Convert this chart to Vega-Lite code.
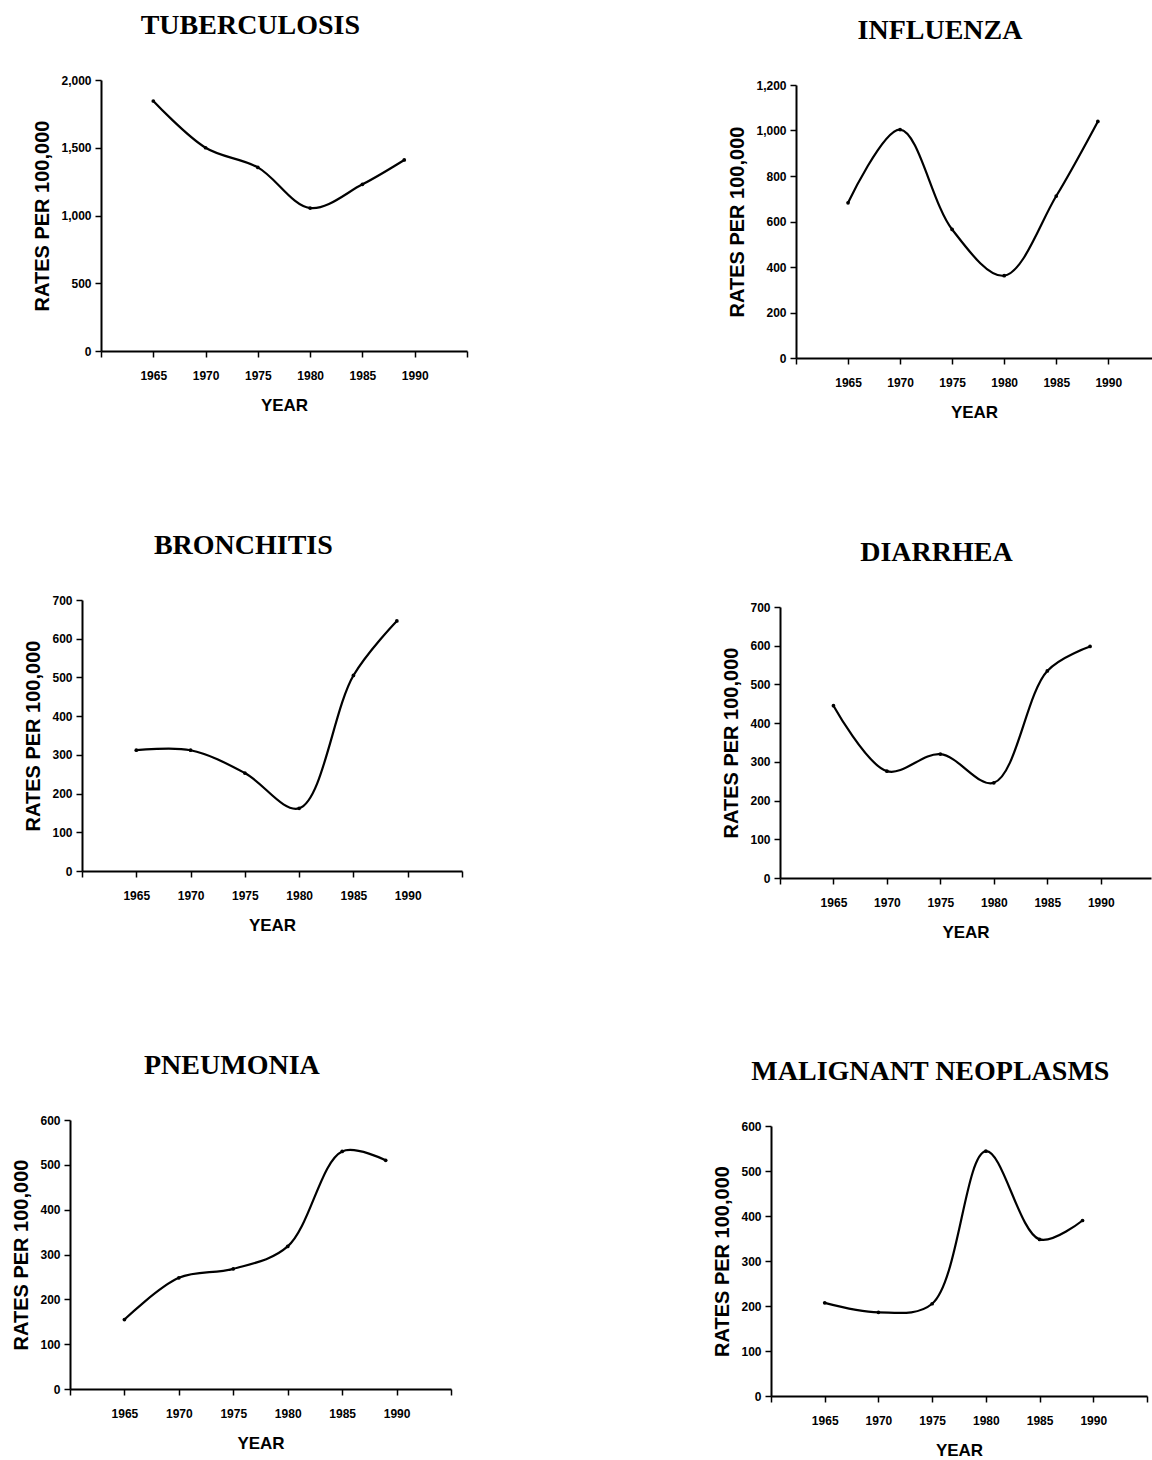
{
  "$schema": "https://vega.github.io/schema/vega-lite/v6.json",
  "background": "white",
  "padding": {"left": 5, "top": 5, "right": 0, "bottom": 0},
  "datasets": {
    "rates": [
      {"disease": "TUBERCULOSIS", "year": 1965, "rate": 1845},
      {"disease": "TUBERCULOSIS", "year": 1970, "rate": 1500},
      {"disease": "TUBERCULOSIS", "year": 1975, "rate": 1355},
      {"disease": "TUBERCULOSIS", "year": 1980, "rate": 1055},
      {"disease": "TUBERCULOSIS", "year": 1985, "rate": 1230},
      {"disease": "TUBERCULOSIS", "year": 1989, "rate": 1410},
      {"disease": "INFLUENZA", "year": 1965, "rate": 682},
      {"disease": "INFLUENZA", "year": 1970, "rate": 1004},
      {"disease": "INFLUENZA", "year": 1975, "rate": 565},
      {"disease": "INFLUENZA", "year": 1980, "rate": 362},
      {"disease": "INFLUENZA", "year": 1985, "rate": 712},
      {"disease": "INFLUENZA", "year": 1989, "rate": 1040},
      {"disease": "BRONCHITIS", "year": 1965, "rate": 312},
      {"disease": "BRONCHITIS", "year": 1970, "rate": 312},
      {"disease": "BRONCHITIS", "year": 1975, "rate": 253},
      {"disease": "BRONCHITIS", "year": 1980, "rate": 162},
      {"disease": "BRONCHITIS", "year": 1985, "rate": 505},
      {"disease": "BRONCHITIS", "year": 1989, "rate": 646},
      {"disease": "DIARRHEA", "year": 1965, "rate": 445},
      {"disease": "DIARRHEA", "year": 1970, "rate": 276},
      {"disease": "DIARRHEA", "year": 1975, "rate": 320},
      {"disease": "DIARRHEA", "year": 1980, "rate": 246},
      {"disease": "DIARRHEA", "year": 1985, "rate": 535},
      {"disease": "DIARRHEA", "year": 1989, "rate": 598},
      {"disease": "PNEUMONIA", "year": 1965, "rate": 155},
      {"disease": "PNEUMONIA", "year": 1970, "rate": 248},
      {"disease": "PNEUMONIA", "year": 1975, "rate": 268},
      {"disease": "PNEUMONIA", "year": 1980, "rate": 318},
      {"disease": "PNEUMONIA", "year": 1985, "rate": 530},
      {"disease": "PNEUMONIA", "year": 1989, "rate": 510},
      {"disease": "MALIGNANT NEOPLASMS", "year": 1965, "rate": 207},
      {"disease": "MALIGNANT NEOPLASMS", "year": 1970, "rate": 186},
      {"disease": "MALIGNANT NEOPLASMS", "year": 1975, "rate": 205},
      {"disease": "MALIGNANT NEOPLASMS", "year": 1980, "rate": 544},
      {"disease": "MALIGNANT NEOPLASMS", "year": 1985, "rate": 348},
      {"disease": "MALIGNANT NEOPLASMS", "year": 1989, "rate": 390}
    ],
    "blank": [{"k": 1}]
  },
  "vconcat": [
    {
      "hconcat": [
        {"width": 27, "height": 1, "data": {"name": "blank"}, "mark": {"type": "point", "opacity": 0}, "encoding": {}},
        {
          "vconcat": [
            {"width": 1, "height": 1, "data": {"name": "blank"}, "mark": {"type": "point", "opacity": 0}, "encoding": {}},
            {
              "title": "TUBERCULOSIS",
              "width": 366, "height": 271,
              "data": {"name": "rates"},
              "transform": [{"filter": "datum.disease === 'TUBERCULOSIS'"}],
              "encoding": {
                "x": {"field": "year", "type": "quantitative", "title": "YEAR", "scale": {"domain": [1960, 1995], "nice": false, "zero": false}, "axis": {"values": [1960, 1965, 1970, 1975, 1980, 1985, 1990, 1995], "labelExpr": "datum.value >= 1965 && datum.value <= 1990 ? datum.value : ''"}},
                "y": {"field": "rate", "type": "quantitative", "title": "RATES PER 100,000", "scale": {"domain": [0, 2000], "nice": false}, "axis": {"values": [0, 500, 1000, 1500, 2000], "format": ",d"}}
              },
              "layer": [
                {"mark": {"type": "line", "interpolate": "catmull-rom", "color": "black", "strokeWidth": 2.2}},
                {"mark": {"type": "circle", "color": "black", "size": 14, "opacity": 1}}
              ]
            }
          ],
          "spacing": 0
        },
        {"width": 259, "height": 1, "data": {"name": "blank"}, "mark": {"type": "point", "opacity": 0}, "encoding": {}},
        {
          "vconcat": [
            {"width": 1, "height": 9, "data": {"name": "blank"}, "mark": {"type": "point", "opacity": 0}, "encoding": {}},
            {
              "title": "INFLUENZA",
              "width": 356, "height": 273,
              "data": {"name": "rates"},
              "transform": [{"filter": "datum.disease === 'INFLUENZA'"}],
              "encoding": {
                "x": {"field": "year", "type": "quantitative", "title": "YEAR", "scale": {"domain": [1960, 1994.2], "nice": false, "zero": false}, "axis": {"values": [1960, 1965, 1970, 1975, 1980, 1985, 1990], "labelExpr": "datum.value >= 1965 && datum.value <= 1990 ? datum.value : ''"}},
                "y": {"field": "rate", "type": "quantitative", "title": "RATES PER 100,000", "scale": {"domain": [0, 1200], "nice": false}, "axis": {"values": [0, 200, 400, 600, 800, 1000, 1200], "format": ",d"}}
              },
              "layer": [
                {"mark": {"type": "line", "interpolate": "catmull-rom", "color": "black", "strokeWidth": 2.2}},
                {"mark": {"type": "circle", "color": "black", "size": 14, "opacity": 1}}
              ]
            }
          ],
          "spacing": 0
        }
      ],
      "spacing": 0
    },
    {
      "hconcat": [
        {"width": 18, "height": 1, "data": {"name": "blank"}, "mark": {"type": "point", "opacity": 0}, "encoding": {}},
        {
          "vconcat": [
            {"width": 1, "height": 1, "data": {"name": "blank"}, "mark": {"type": "point", "opacity": 0}, "encoding": {}},
            {
              "title": "BRONCHITIS",
              "width": 380, "height": 271,
              "data": {"name": "rates"},
              "transform": [{"filter": "datum.disease === 'BRONCHITIS'"}],
              "encoding": {
                "x": {"field": "year", "type": "quantitative", "title": "YEAR", "scale": {"domain": [1960, 1995], "nice": false, "zero": false}, "axis": {"values": [1960, 1965, 1970, 1975, 1980, 1985, 1990, 1995], "labelExpr": "datum.value >= 1965 && datum.value <= 1990 ? datum.value : ''"}},
                "y": {"field": "rate", "type": "quantitative", "title": "RATES PER 100,000", "scale": {"domain": [0, 700], "nice": false}, "axis": {"values": [0, 100, 200, 300, 400, 500, 600, 700], "format": ",d"}}
              },
              "layer": [
                {"mark": {"type": "line", "interpolate": "catmull-rom", "color": "black", "strokeWidth": 2.2}},
                {"mark": {"type": "circle", "color": "black", "size": 14, "opacity": 1}}
              ]
            }
          ],
          "spacing": 0
        },
        {"width": 258, "height": 1, "data": {"name": "blank"}, "mark": {"type": "point", "opacity": 0}, "encoding": {}},
        {
          "vconcat": [
            {"width": 1, "height": 11, "data": {"name": "blank"}, "mark": {"type": "point", "opacity": 0}, "encoding": {}},
            {
              "title": "DIARRHEA",
              "width": 371, "height": 271,
              "data": {"name": "rates"},
              "transform": [{"filter": "datum.disease === 'DIARRHEA'"}],
              "encoding": {
                "x": {"field": "year", "type": "quantitative", "title": "YEAR", "scale": {"domain": [1960, 1994.7], "nice": false, "zero": false}, "axis": {"values": [1960, 1965, 1970, 1975, 1980, 1985, 1990], "labelExpr": "datum.value >= 1965 && datum.value <= 1990 ? datum.value : ''"}},
                "y": {"field": "rate", "type": "quantitative", "title": "RATES PER 100,000", "scale": {"domain": [0, 700], "nice": false}, "axis": {"values": [0, 100, 200, 300, 400, 500, 600, 700], "format": ",d"}}
              },
              "layer": [
                {"mark": {"type": "line", "interpolate": "catmull-rom", "color": "black", "strokeWidth": 2.2}},
                {"mark": {"type": "circle", "color": "black", "size": 14, "opacity": 1}}
              ]
            }
          ],
          "spacing": 0
        }
      ],
      "spacing": 0
    },
    {
      "hconcat": [
        {"width": 6, "height": 1, "data": {"name": "blank"}, "mark": {"type": "point", "opacity": 0}, "encoding": {}},
        {
          "vconcat": [
            {"width": 1, "height": 1, "data": {"name": "blank"}, "mark": {"type": "point", "opacity": 0}, "encoding": {}},
            {
              "title": "PNEUMONIA",
              "width": 381, "height": 269,
              "data": {"name": "rates"},
              "transform": [{"filter": "datum.disease === 'PNEUMONIA'"}],
              "encoding": {
                "x": {"field": "year", "type": "quantitative", "title": "YEAR", "scale": {"domain": [1960, 1995], "nice": false, "zero": false}, "axis": {"values": [1960, 1965, 1970, 1975, 1980, 1985, 1990, 1995], "labelExpr": "datum.value >= 1965 && datum.value <= 1990 ? datum.value : ''"}},
                "y": {"field": "rate", "type": "quantitative", "title": "RATES PER 100,000", "scale": {"domain": [0, 600], "nice": false}, "axis": {"values": [0, 100, 200, 300, 400, 500, 600], "format": ",d"}}
              },
              "layer": [
                {"mark": {"type": "line", "interpolate": "catmull-rom", "color": "black", "strokeWidth": 2.2}},
                {"mark": {"type": "circle", "color": "black", "size": 14, "opacity": 1}}
              ]
            }
          ],
          "spacing": 0
        },
        {"width": 260, "height": 1, "data": {"name": "blank"}, "mark": {"type": "point", "opacity": 0}, "encoding": {}},
        {
          "vconcat": [
            {"width": 1, "height": 10, "data": {"name": "blank"}, "mark": {"type": "point", "opacity": 0}, "encoding": {}},
            {
              "title": "MALIGNANT NEOPLASMS",
              "width": 376, "height": 270,
              "data": {"name": "rates"},
              "transform": [{"filter": "datum.disease === 'MALIGNANT NEOPLASMS'"}],
              "encoding": {
                "x": {"field": "year", "type": "quantitative", "title": "YEAR", "scale": {"domain": [1960, 1995], "nice": false, "zero": false}, "axis": {"values": [1960, 1965, 1970, 1975, 1980, 1985, 1990, 1995], "labelExpr": "datum.value >= 1965 && datum.value <= 1990 ? datum.value : ''"}},
                "y": {"field": "rate", "type": "quantitative", "title": "RATES PER 100,000", "scale": {"domain": [0, 600], "nice": false}, "axis": {"values": [0, 100, 200, 300, 400, 500, 600], "format": ",d"}}
              },
              "layer": [
                {"mark": {"type": "line", "interpolate": "catmull-rom", "color": "black", "strokeWidth": 2.2}},
                {"mark": {"type": "circle", "color": "black", "size": 14, "opacity": 1}}
              ]
            }
          ],
          "spacing": 0
        }
      ],
      "spacing": 0
    }
  ],
  "spacing": 105,
  "config": {
    "view": {"stroke": null},
    "font": "Liberation Sans",
    "title": {"font": "Liberation Serif", "fontSize": 28, "fontWeight": "bold", "color": "black", "anchor": "middle", "frame": "bounds", "baseline": "alphabetic", "offset": 34},
    "axis": {"domainColor": "black", "domainWidth": 2, "tickColor": "black", "tickWidth": 1.5, "tickSize": 6, "labelFont": "Liberation Sans", "labelFontWeight": "bold", "labelFontSize": 12, "labelColor": "black", "labelFlush": false, "titleFont": "Liberation Sans", "titleFontWeight": "bold", "titleColor": "black", "grid": false},
    "axisX": {"titleFontSize": 17, "labelPadding": 13, "titlePadding": 16},
    "axisY": {"titleFontSize": 20, "labelPadding": 4, "titlePadding": 8}
  }
}
